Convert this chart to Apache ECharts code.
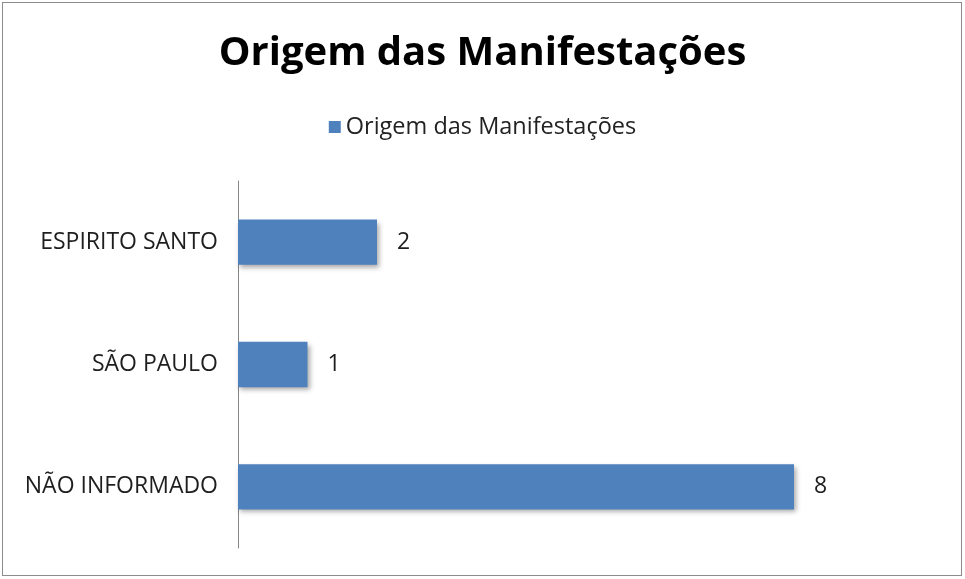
<!DOCTYPE html>
<html>
<head>
<meta charset="utf-8">
<script src="https://cdn.jsdelivr.net/npm/echarts@6/dist/echarts.min.js"></script>
<style>
  html, body { margin: 0; padding: 0; background: #fff; }
  #chart { width: 965px; height: 579px; }
  #frame { position: absolute; left: 2px; top: 2px; width: 958px; height: 572px; border: 1px solid #8c8c8c; pointer-events: none; }
</style>
</head>
<body>
<div id="chart"></div>
<div id="frame"></div>
<script>
// categories listed bottom to top (category axis on y starts at the bottom)
const categories = ['NÃO INFORMADO', 'SÃO PAULO', 'ESPIRITO SANTO'];
const values = [8, 1, 2];
const seriesName = 'Origem das Manifestações';

const chart = echarts.init(document.getElementById('chart'));

chart.setOption({
    backgroundColor: '#ffffff',
    animation: false,
    title: {
        text: 'Origem das Manifestações',
        left: 'center',
        top: 29,
        textStyle: { fontFamily: 'Open Sans', fontWeight: 'bold', fontSize: 40, color: '#000' }
    },
    legend: {
        data: [seriesName],
        top: 110,
        left: 'center',
        icon: 'rect',
        itemWidth: 12,
        itemHeight: 12,
        itemGap: 8,
        textStyle: { fontFamily: 'Open Sans', fontSize: 23.5, color: '#222' }
    },
    grid: { left: 238, right: 171, top: 181, bottom: 31 },
    xAxis: {
        type: 'value',
        min: 0,
        max: 8,
        show: false
    },
    yAxis: {
        type: 'category',
        data: categories,
        axisLine: { show: true, lineStyle: { color: '#868686', width: 1 } },
        axisTick: { show: false },
        axisLabel: { fontFamily: 'Open Sans', fontSize: 23, color: '#1e1e1e', margin: 20 }
    },
    series: [{
        name: seriesName,
        type: 'bar',
        data: values,
        barWidth: '37%',
        itemStyle: {
            color: '#4f81bd',
            shadowColor: 'rgba(0,0,0,0.35)',
            shadowBlur: 5,
            shadowOffsetX: 2,
            shadowOffsetY: 3
        },
        label: {
            show: true,
            position: 'right',
            distance: 20,
            fontFamily: 'Open Sans',
            fontSize: 23,
            color: '#1e1e1e'
        }
    }]
});
</script>
</body>
</html>
